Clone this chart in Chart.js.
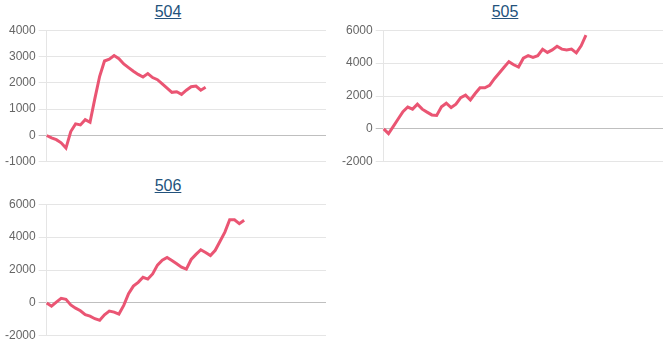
<!DOCTYPE html>
<html>
<head>
<meta charset="utf-8">
<script src="https://cdn.jsdelivr.net/npm/chart.js@4"></script>
<style>
  html, body { margin: 0; padding: 0; background: #fff; overflow: hidden; }
  body { width: 667px; height: 348px; position: relative; font-family: Arial, "Liberation Sans", sans-serif; }
  .box { position: absolute; width: 336px; height: 174px; }
  .box h3 { margin: 0; height: 20px; line-height: 23px; text-align: center; font-size: 16px; font-weight: normal; overflow: visible; }
  .box h3 a { color: #23527c; text-decoration: underline; position: relative; z-index: 1; }
  .box .wrap { position: relative; width: 336px; height: 152px; }
</style>
</head>
<body>
<div class="box" style="left:0; top:0;">
  <h3><a href="#">504</a></h3>
  <div class="wrap"><canvas id="c504"></canvas></div>
</div>
<div class="box" style="left:337px; top:0;">
  <h3><a href="#">505</a></h3>
  <div class="wrap"><canvas id="c505"></canvas></div>
</div>
<div class="box" style="left:0; top:174px;">
  <h3><a href="#">506</a></h3>
  <div class="wrap"><canvas id="c506"></canvas></div>
</div>

<script>
// Shared x axis (labels hidden in the original)
var labels = [];
for (var i = 1; i <= 59; i++) { labels.push(String(i)); }

// Cumulative values
var values504 = [0, -90, -160, -280, -480, 150, 440, 400, 600, 500,
                 1400, 2250, 2830, 2900, 3040, 2920, 2720, 2580, 2440, 2320,
                 2220, 2350, 2200, 2120, 1960, 1800, 1640, 1660, 1560, 1720,
                 1850, 1880, 1720, 1830];

var values505 = [0, -290, 150, 600, 1050, 1330, 1200, 1500, 1200, 1020,
                 850, 820, 1340, 1560, 1300, 1500, 1900, 2050, 1760, 2150,
                 2500, 2500, 2650, 3050, 3400, 3750, 4090, 3900, 3760, 4300,
                 4450, 4350, 4450, 4840, 4650, 4800, 5020, 4850, 4800, 4850,
                 4620, 5050, 5700];

var values506 = [0, -200, 50, 280, 220, -120, -320, -480, -720, -800,
                 -960, -1050, -720, -500, -560, -680, -150, 560, 1020, 1250,
                 1560, 1450, 1760, 2300, 2590, 2760, 2580, 2380, 2170, 2050,
                 2640, 2950, 3230, 3060, 2880, 3200, 3750, 4300, 5050, 5050,
                 4820, 5030];

// Y axis ranges
var ticks504 = { min: -1000, max: 4000, step: 1000 };
var ticks505 = { min: -2000, max: 6000, step: 2000 };
var ticks506 = { min: -2000, max: 6000, step: 2000 };

var LINE_COLOR = 'rgb(234, 85, 115)';

// Build one small line chart
function makeChart(id, values, t) {
  return new Chart(document.getElementById(id), {
    type: 'line',
    data: {
      labels: labels,
      datasets: [{
        data:        values,
        borderColor: LINE_COLOR,
        borderWidth: 3,
        pointRadius: 0,
        tension:     0,
        fill:        false,
      }],
    },
    options: {
      responsive:          true,
      maintainAspectRatio: false,
      animation:           false,
      layout: { padding: { left: 2, right: 10, top: 0, bottom: 7 } },
      plugins: {
        legend:  { display: false },
        tooltip: { enabled: false },
      },
      scales: {
        x: { display: false },
        y: {
          min: t.min,
          max: t.max,
          ticks: {
            stepSize: t.step,
            color:    '#666',
            font:     { size: 12, family: "Arial, 'Liberation Sans', sans-serif" },
            /* plain numbers, no thousands separator */
            callback: function(val) { return String(val); },
          },
          grid: {
            /* darker zero line, like the old Chart.js style */
            color: function(ctx) {
              return ctx.tick && ctx.tick.value === 0 ? 'rgba(0,0,0,0.25)' : 'rgba(0,0,0,0.1)';
            },
          },
          border: { color: 'rgba(0,0,0,0.1)' },
        },
      },
    },
  });
}

makeChart('c504', values504, ticks504);
makeChart('c505', values505, ticks505);
makeChart('c506', values506, ticks506);
</script>
</body>
</html>
